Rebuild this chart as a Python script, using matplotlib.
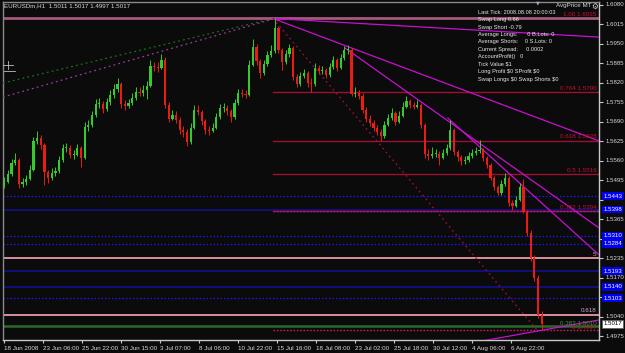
import matplotlib
matplotlib.use("Agg")
import matplotlib.pyplot as plt
import numpy as np
from matplotlib.patches import Rectangle

# ---------------- data ----------------
first_open = 1.5480
closes = [
    1.5491, 1.5517, 1.5554, 1.5564, 1.5484, 1.5491, 1.5501, 1.5531, 1.5627, 1.5637,
    1.5614, 1.5524, 1.5504, 1.5521, 1.5527, 1.5564, 1.5604, 1.5604, 1.5581, 1.5581,
    1.5604, 1.5571, 1.5674, 1.5681, 1.5714, 1.5751, 1.5751, 1.5734, 1.5757, 1.5781,
    1.5801, 1.5817, 1.5751, 1.5744, 1.5754, 1.5771, 1.5791, 1.5787, 1.5797, 1.5811,
    1.5877, 1.5874, 1.5871, 1.5897, 1.5747, 1.5701, 1.5714, 1.5697, 1.5664, 1.5657,
    1.5624, 1.5671, 1.5731, 1.5724, 1.5694, 1.5664, 1.5661, 1.5671, 1.5707, 1.5737,
    1.5737, 1.5727, 1.5707, 1.5754, 1.5787, 1.5784, 1.5781, 1.5881, 1.5941, 1.5894,
    1.5854, 1.5884, 1.5914, 1.5927, 1.6004, 1.5931, 1.5891, 1.5917, 1.5937, 1.5841,
    1.5817, 1.5844, 1.5854, 1.5821, 1.5817, 1.5871, 1.5861, 1.5864, 1.5847, 1.5874,
    1.5897, 1.5871, 1.5904, 1.5931, 1.5931, 1.5784, 1.5787, 1.5777, 1.5731, 1.5701,
    1.5687, 1.5671, 1.5657, 1.5644, 1.5681, 1.5704, 1.5721, 1.5691, 1.5711, 1.5741,
    1.5761, 1.5747, 1.5741, 1.5747, 1.5681, 1.5584, 1.5577, 1.5584, 1.5584, 1.5571,
    1.5587, 1.5604, 1.5664, 1.5591, 1.5574, 1.5561, 1.5564, 1.5577, 1.5587, 1.5594,
    1.5597, 1.5571, 1.5547, 1.5504, 1.5474, 1.5454, 1.5484, 1.5504, 1.5421, 1.5411,
    1.5431, 1.5474, 1.5391, 1.5321, 1.5237, 1.5171, 1.5047, 1.5017,
]
highs = [
    1.5505, 1.5530, 1.5565, 1.5585, 1.5570, 1.5502, 1.5512, 1.5545, 1.5640, 1.5660,
    1.5645, 1.5620, 1.5530, 1.5535, 1.5540, 1.5575, 1.5615, 1.5620, 1.5612, 1.5595,
    1.5618, 1.5610, 1.5690, 1.5695, 1.5725, 1.5765, 1.5770, 1.5760, 1.5770, 1.5795,
    1.5815, 1.5835, 1.5822, 1.5762, 1.5768, 1.5785, 1.5805, 1.5808, 1.5812, 1.5825,
    1.5895, 1.5890, 1.5890, 1.5915, 1.5905, 1.5755, 1.5730, 1.5725, 1.5705, 1.5675,
    1.5665, 1.5685, 1.5745, 1.5745, 1.5730, 1.5700, 1.5678, 1.5685, 1.5720, 1.5750,
    1.5752, 1.5745, 1.5732, 1.5768, 1.5800, 1.5800, 1.5795, 1.5895, 1.5965, 1.5950,
    1.5900, 1.5898, 1.5928, 1.5945, 1.6035, 1.6010, 1.5938, 1.5930, 1.5950, 1.5942,
    1.5850, 1.5858, 1.5868, 1.5860, 1.5835, 1.5885, 1.5880, 1.5878, 1.5870, 1.5888,
    1.5910, 1.5902, 1.5918, 1.5942, 1.5945, 1.5938, 1.5805, 1.5798, 1.5785, 1.5740,
    1.5712, 1.5695, 1.5680, 1.5665, 1.5692, 1.5718, 1.5735, 1.5728, 1.5725, 1.5755,
    1.5775, 1.5768, 1.5758, 1.5762, 1.5752, 1.5688, 1.5600, 1.5605, 1.5600, 1.5592,
    1.5600, 1.5615, 1.5697, 1.5670, 1.5598, 1.5580, 1.5578, 1.5590, 1.5600, 1.5608,
    1.5631, 1.5602, 1.5578, 1.5552, 1.5510, 1.5480, 1.5495, 1.5520, 1.5510, 1.5430,
    1.5442, 1.5485, 1.5500, 1.5398, 1.5330, 1.5245, 1.5180, 1.5060,
]
lows = [
    1.5470, 1.5485, 1.5510, 1.5545, 1.5470, 1.5474, 1.5480, 1.5495, 1.5525, 1.5615,
    1.5600, 1.5481, 1.5485, 1.5495, 1.5510, 1.5520, 1.5555, 1.5590, 1.5570, 1.5568,
    1.5575, 1.5540, 1.5565, 1.5660, 1.5672, 1.5705, 1.5735, 1.5720, 1.5725, 1.5748,
    1.5770, 1.5790, 1.5735, 1.5730, 1.5735, 1.5745, 1.5762, 1.5775, 1.5778, 1.5765,
    1.5805, 1.5860, 1.5858, 1.5865, 1.5735, 1.5690, 1.5695, 1.5685, 1.5650, 1.5640,
    1.5610, 1.5618, 1.5665, 1.5712, 1.5680, 1.5650, 1.5648, 1.5655, 1.5665, 1.5700,
    1.5722, 1.5712, 1.5690, 1.5700, 1.5748, 1.5772, 1.5770, 1.5775, 1.5875, 1.5880,
    1.5835, 1.5845, 1.5875, 1.5905, 1.5920, 1.5920, 1.5862, 1.5882, 1.5908, 1.5830,
    1.5805, 1.5810, 1.5835, 1.5808, 1.5790, 1.5810, 1.5850, 1.5850, 1.5835, 1.5840,
    1.5865, 1.5860, 1.5865, 1.5898, 1.5918, 1.5775, 1.5772, 1.5765, 1.5720, 1.5690,
    1.5675, 1.5660, 1.5645, 1.5625, 1.5638, 1.5675, 1.5698, 1.5680, 1.5685, 1.5705,
    1.5735, 1.5738, 1.5732, 1.5735, 1.5670, 1.5570, 1.5562, 1.5570, 1.5572, 1.5545,
    1.5565, 1.5580, 1.5598, 1.5580, 1.5560, 1.5545, 1.5550, 1.5558, 1.5570, 1.5580,
    1.5585, 1.5560, 1.5535, 1.5495, 1.5462, 1.5445, 1.5448, 1.5478, 1.5410, 1.5398,
    1.5405, 1.5425, 1.5385, 1.5310, 1.5225, 1.5160, 1.5035, 1.4997,
]
bars_per_candle = 6  # hourly bars aggregated per drawn candle

date_tick_bars = [0, 64, 128, 192, 256, 320, 384, 448, 512, 576, 640, 704, 768, 832]
date_labels = ["18 Jun 2008", "23 Jun 06:00", "25 Jun 22:00", "30 Jun 15:00",
               "3 Jul 07:00", "8 Jul 06:00", "10 Jul 22:00", "15 Jul 16:00",
               "18 Jul 08:00", "23 Jul 02:00", "25 Jul 18:00", "30 Jul 12:00",
               "4 Aug 06:00", "6 Aug 22:00"]
price_ticks = [1.6080, 1.6015, 1.5950, 1.5885, 1.5820, 1.5755, 1.5690, 1.5625,
               1.5560, 1.5495, 1.5430, 1.5365, 1.5300, 1.5235, 1.5170, 1.5105,
               1.5040, 1.4975]
hidden_price_labels = [1.5430, 1.5300, 1.5105]  # covered by the blue price boxes

# Fibonacci retracement (anchor bar, levels)
fib_anchor_bar = 441
fib_levels = [0.764, 0.618, 0.5, 0.382]
fib_prices = [1.5790, 1.5628, 1.5516, 1.5394]
fib_top = 1.6035
fib_zero = 1.4997

# user horizontal lines
blue_dotted = [1.5443, 1.5310, 1.5284, 1.5103]
navy_solid = [1.5398, 1.5193, 1.5140]
blue_box_prices = [1.5443, 1.5398, 1.5310, 1.5284, 1.5193, 1.5140, 1.5103]
pink_lines = [1.5235, 1.5047]
green_line = 1.5010

# trend lines: (bar1, price1, bar2, price2)
magenta_lines = [
    (441, 1.6035, 976, 1.5973),
    (441, 1.6035, 976, 1.5627),
    (559, 1.5937, 976, 1.5337),
    (728, 1.5703, 976, 1.5247),
    (743, 1.4945, 976, 1.5030),
]
fib_diag = (441, 1.6035, 874, 1.4997)
green_dotted = (-2, 1.5820, 431, 1.6030)
magenta_dotted = (-2, 1.5773, 441, 1.6033)

last_price = 1.5017
info_lines = ["Last Tick: 2008.08.08 20:00:03", "Swap Long 0.66", "Swap Short -0.79",
              "Average Longs:      0 B.Lots: 0", "Average Shorts:    0 S.Lots: 0",
              "Current Spread:     0.0002", "AccountProfit()   0", "Tick Value $1",
              "Long Profit $0 SProfit $0", "Swap Longs $0 Swap Shorts $0"]

# ---------------- drawing ----------------
FONT = ["Liberation Sans", "DejaVu Sans"]
plt.rcParams["font.family"] = FONT
W, H = 625, 353
BG = "#0b0b0b"
TXT = "#d8d8d8"

fig = plt.figure(figsize=(W / 100, H / 100), dpi=100, facecolor=BG)
ax = fig.add_axes([3 / W, 13 / H, 596 / W, 338 / H])
ax.set_facecolor(BG)
XMIN, XMAX = -2, 976
YMAX = 1.6090
YMIN = 1.49633
ax.set_xlim(XMIN, XMAX)
ax.set_ylim(YMIN, YMAX)

def fx(px):
    return px / W

def fy(py):
    return 1 - py / H

# horizontal lines
ax.axhline(fib_top, color="#a45a7a", lw=2.0, zorder=2)
for p in blue_dotted:
    ax.axhline(p, color="#1a1aff", lw=0.9, ls=(0, (1.2, 1.6)), zorder=2)
for p in navy_solid:
    ax.axhline(p, color="#10108c", lw=1.2, zorder=2)
for p in pink_lines:
    ax.axhline(p, color="#d8909c", lw=1.4, zorder=2)
ax.axhline(green_line, color="#2a6a2a", lw=1.8, zorder=2)

for p in fib_prices:
    ax.plot([fib_anchor_bar, XMAX], [p, p], color="#9c1030", lw=1.0, zorder=2)
ax.plot([fib_anchor_bar, XMAX], [fib_prices[-1], fib_prices[-1]], color="#a020a0",
        lw=1.0, ls=(0, (1.2, 1.2)), zorder=2)
ax.plot([fib_anchor_bar, XMAX], [fib_zero, fib_zero], color="#c02050",
        lw=1.0, ls=(0, (1.2, 1.2)), zorder=2)

# trend lines
for (x1, p1, x2, p2) in magenta_lines:
    ax.plot([x1, x2], [p1, p2], color="#c810d0", lw=0.9, zorder=3)
ax.plot(fib_diag[::2], fib_diag[1::2], color="#a01030", lw=1.0,
        ls=(0, (1.2, 2.5)), zorder=3)
ax.plot(green_dotted[::2], green_dotted[1::2], color="#1e6e1e", lw=0.9,
        ls=(0, (1.5, 2.5)), zorder=3)
ax.plot(magenta_dotted[::2], magenta_dotted[1::2], color="#9a3a9a", lw=0.9,
        ls=(0, (1.5, 2.5)), zorder=3)

# candles
n = min(len(closes), len(highs), len(lows))
xs = np.arange(n) * bars_per_candle
opens = [first_open] + closes[:n - 1]
UP, DOWN = "#34cc2c", "#ec1c14"
for i in range(n):
    o, c, h, l = opens[i], closes[i], highs[i], lows[i]
    col = UP if c >= o else DOWN
    ax.plot([xs[i], xs[i]], [l, h], color=col, lw=0.7, zorder=4, solid_capstyle="butt")
    body_lo, body_hi = min(o, c), max(o, c)
    if body_hi - body_lo < 0.0002:
        body_hi = body_lo + 0.0002
    ax.add_patch(Rectangle((xs[i] - 1.8, body_lo), 3.6, body_hi - body_lo,
                           facecolor=col, edgecolor="none", zorder=4))

# fib labels
fs = 4.5
for lv, p in zip(fib_levels, fib_prices):
    ax.text(XMAX - 4, p + 0.0004, f"{lv} {p:.4f}", color="#c81030", fontsize=fs,
            ha="right", va="bottom", zorder=5)
ax.text(XMAX - 4, fib_top + 0.0006, f"1.00 {fib_top:.4f}", color="#c81030",
        fontsize=fs, ha="right", va="bottom", zorder=5)
ax.text(XMAX - 4, pink_lines[0] + 0.0004, "5", color="#c0a0b0", fontsize=fs,
        ha="right", va="bottom", zorder=5)
ax.text(XMAX - 4, pink_lines[1] + 0.0005, "0.618", color="#d8a8c8", fontsize=fs,
        ha="right", va="bottom", zorder=5)
ax.text(XMAX - 4, green_line + 0.0001, f"0.382 {green_line:.4f}", color="#3a9a3a",
        fontsize=fs, ha="right", va="bottom", zorder=5)
ax.text(XMAX - 4, fib_zero - 0.0001, f"0 {fib_zero:.4f}", color="#c81030",
        fontsize=fs, ha="right", va="bottom", zorder=5)

# axes styling
for s in ["left", "top"]:
    ax.spines[s].set_color("#8a8a8a")
    ax.spines[s].set_linewidth(1.0)
for s in ["right", "bottom"]:
    ax.spines[s].set_color("#c8c8c8")
    ax.spines[s].set_linewidth(1.0)
ax.yaxis.tick_right()
ax.set_yticks(price_ticks)
ax.set_yticklabels(["" if p in hidden_price_labels else f"{p:.4f}" for p in price_ticks])
ax.tick_params(axis="y", colors="#c8c8c8", labelcolor=TXT, length=3, width=0.8,
               pad=1.5, labelsize=4.4, direction="out")
ax.set_xticks(date_tick_bars)
ax.set_xticklabels(date_labels)
ax.tick_params(axis="x", colors="#c8c8c8", labelcolor=TXT, length=2.5, width=0.8,
               pad=1.5, labelsize=fs, direction="out")
for lab in ax.get_xticklabels():
    lab.set_ha("left")
for lab in ax.get_yticklabels():
    lab.set_va("center")

# blue price boxes on the axis
for p in blue_box_prices:
    ax.text(XMAX + 7, p, f"{p:.4f}", color="white", fontsize=4.4, ha="left",
            va="center", zorder=10, clip_on=False,
            bbox=dict(boxstyle="square,pad=0.22", facecolor="#0000f0",
                      edgecolor="none"))
ax.text(XMAX + 7, last_price, f"{last_price:.4f}", color="black", fontsize=4.4,
        ha="left", va="center", zorder=10, clip_on=False,
        bbox=dict(boxstyle="square,pad=0.2", facecolor="white", edgecolor="#606060",
                  linewidth=0.6))

# header / info text
fig.text(fx(4), fy(6), "EURUSDm,H1  1.5011 1.5017 1.4997 1.5017", color=TXT,
         fontsize=fs, ha="left", va="center")
fig.text(fx(556), fy(6), "AvgPrice MT", color=TXT, fontsize=fs, ha="left",
         va="center")
fig.text(fx(591), fy(6), "\u2699", color=TXT, fontsize=5.5, ha="left", va="center",
         family=["DejaVu Sans"])
fig.text(fx(538), fy(3), "\u25bc", color="#9ab0d0", fontsize=3.5, ha="center",
         va="center", family=["DejaVu Sans"])
info_y = [12, 20, 27, 34.5, 42, 49.5, 56.5, 64, 71.5, 79]
for t, yy in zip(info_lines, info_y):
    fig.text(fx(478), fy(yy), t, color="#e8e8e8", fontsize=4.1, ha="left",
             va="center", zorder=20, parse_math=False)

# crosshair icon
fig.add_artist(plt.Line2D([fx(3), fx(13)], [fy(65), fy(65)], color="#c0c0c0", lw=0.6))
fig.add_artist(plt.Line2D([fx(8), fx(8)], [fy(61), fy(69)], color="#c0c0c0", lw=0.6))
fig.add_artist(plt.Line2D([fx(4), fx(15)], [fy(70.5), fy(70.5)], color="#c0c0c0", lw=0.6))

fig.savefig("out.png", dpi=100, facecolor=BG)
